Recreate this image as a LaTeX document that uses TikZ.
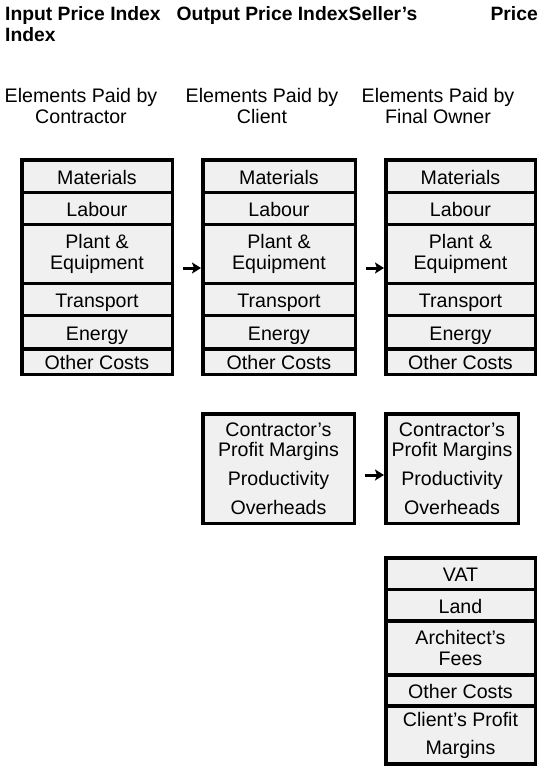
\documentclass[tikz,border=0pt]{standalone}
\usepackage{fontspec}
\setmainfont{Liberation Sans}
\usetikzlibrary{arrows.meta}
\definecolor{cellgray}{RGB}{240,240,240}
\begin{document}
\begin{tikzpicture}[x=1pt,y=-1pt,
  cell/.style={draw=black, line width=3.5pt, fill=cellgray, inner sep=0pt,
    font=\fontsize{19.6}{21}\selectfont, text height=16pt, text depth=0pt},
  mcell/.style={draw=black, line width=3.5pt, fill=cellgray, inner sep=0pt,
    align=center, font=\fontsize{19.6}{21}\selectfont},
  hdr/.style={inner sep=0pt, font=\fontsize{19.3}{21}\selectfont\bfseries},
  colhd/.style={inner sep=0pt, align=center, font=\fontsize{19.6}{21}\selectfont},
  arr/.style={line width=3pt, -{Stealth[length=9pt,width=11pt,inset=2pt]}}]
\useasboundingbox (0,0) rectangle (543,771);

% headings
\node[hdr, anchor=base west] (h1) at (5,20) {Input Price Index};
\node[hdr, anchor=base west] (h1b) at (5,41) {Index};
\node[hdr, anchor=base west] (h2) at (176.5,20) {Output Price Index};
\node[hdr, anchor=base west] (h3) at (h2.base east) {Seller’s};
\node[hdr, anchor=base east] (h4) at (538,20) {Price};

\node[colhd] (c1) at (81,106) {Elements Paid by\\Contractor};
\node[colhd] (c2) at (262,106) {Elements Paid by\\Client};
\node[colhd] (c3) at (438,106) {Elements Paid by\\Final Owner};

% column A
\node[cell, minimum width=150.5pt, minimum height=32.5pt] (a1) at (97,176.25) {Materials};
\node[cell, minimum width=150.5pt, minimum height=32pt] (a2) at (97,208.5) {Labour};
\node[mcell, minimum width=150.5pt, minimum height=59pt] (a3) at (97,254) {Plant \&\\Equipment};
\node[cell, minimum width=150.5pt, minimum height=32pt] (a4) at (97,299.5) {Transport};
\node[cell, minimum width=150.5pt, minimum height=33.5pt] (a5) at (97,332.25) {Energy};
\node[cell, minimum width=150.5pt, minimum height=25.5pt] (a6) at (97,361.75) {Other Costs};

% column B
\node[cell, minimum width=152.5pt, minimum height=32.5pt] (b1) at (279,176.25) {Materials};
\node[cell, minimum width=152.5pt, minimum height=32pt] (b2) at (279,208.5) {Labour};
\node[mcell, minimum width=152.5pt, minimum height=59pt] (b3) at (279,254) {Plant \&\\Equipment};
\node[cell, minimum width=152.5pt, minimum height=32pt] (b4) at (279,299.5) {Transport};
\node[cell, minimum width=152.5pt, minimum height=33.5pt] (b5) at (279,332.25) {Energy};
\node[cell, minimum width=152.5pt, minimum height=25.5pt] (b6) at (279,361.75) {Other Costs};

% column C
\node[cell, minimum width=149.5pt, minimum height=32.5pt] (d1) at (460.5,176.25) {Materials};
\node[cell, minimum width=149.5pt, minimum height=32pt] (d2) at (460.5,208.5) {Labour};
\node[mcell, minimum width=149.5pt, minimum height=59pt] (d3) at (460.5,254) {Plant \&\\Equipment};
\node[cell, minimum width=149.5pt, minimum height=32pt] (d4) at (460.5,299.5) {Transport};
\node[cell, minimum width=149.5pt, minimum height=33.5pt] (d5) at (460.5,332.25) {Energy};
\node[cell, minimum width=149.5pt, minimum height=25.5pt] (d6) at (460.5,361.75) {Other Costs};

% contractor boxes
\node[mcell, minimum width=151.5pt, minimum height=109.5pt] (bp) at (278.5,468.5)
  {Contractor’s\\[-1pt]Profit Margins\\[8pt]Productivity\\[8pt]Overheads};
\node[mcell, minimum width=132.5pt, minimum height=109.5pt] (dp) at (452,468.5)
  {Contractor’s\\[-1pt]Profit Margins\\[8pt]Productivity\\[8pt]Overheads};

% client box
\node[cell, minimum width=149.5pt, minimum height=31.5pt] (e1) at (460.5,573.75) {VAT};
\node[cell, minimum width=149.5pt, minimum height=31.5pt] (e2) at (460.5,605.25) {Land};
\node[mcell, minimum width=149.5pt, minimum height=54pt] (e3) at (460.5,648) {Architect’s\\Fees};
\node[cell, minimum width=149.5pt, minimum height=31pt] (e4) at (460.5,690.5) {Other Costs};
\node[mcell, minimum width=149.5pt, minimum height=58pt] (e5) at (460.5,735) {Client’s Profit\\[7pt]Margins};

% arrows
\draw[arr, shorten <=9pt] ([yshift=-14pt]a3.east) -- ([yshift=-14pt]b3.west);
\draw[arr, shorten <=9pt] ([yshift=-14pt]b3.east) -- ([yshift=-14pt]d3.west);
\draw[arr, shorten <=9pt] ([yshift=-6.5pt]bp.east) -- ([yshift=-6.5pt]dp.west);
\end{tikzpicture}
\end{document}
